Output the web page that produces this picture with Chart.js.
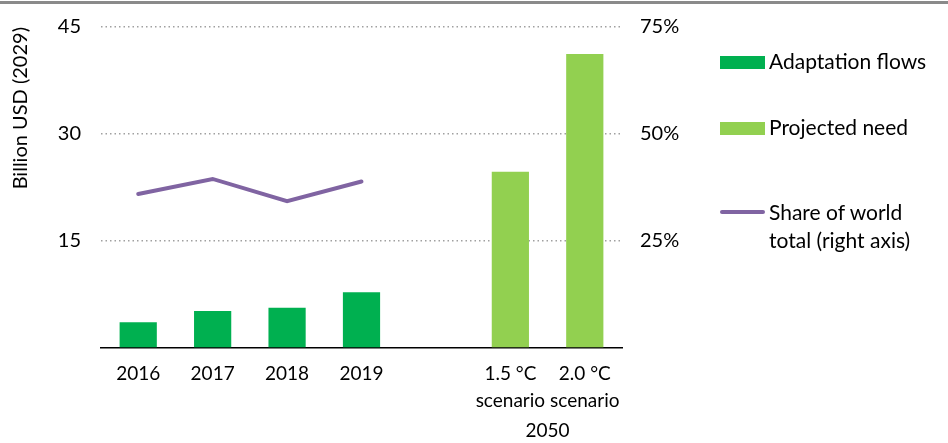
<!DOCTYPE html>
<html>
<head>
<meta charset="utf-8">
<script src="https://cdn.jsdelivr.net/npm/chart.js@4.4.1/dist/chart.umd.min.js"></script>
<style>
  html, body { margin: 0; padding: 0; background: #fff; }
  #wrap { position: relative; width: 948px; height: 443px; overflow: hidden; }
  #topline { position: absolute; left: 0; top: 1px; width: 948px; height: 3px; background: #8a8a8a; }
  #legend { position: absolute; left: 720px; top: 0; font-family: Lato, sans-serif; font-size: 21px; color: #000; }
  .item { position: absolute; left: 0; display: flex; align-items: flex-start; white-space: nowrap; line-height: 28px; }
  .swatch { width: 45px; margin-right: 4px; flex: none; }
</style>
</head>
<body>
<div id="wrap">
  <canvas id="chart" width="948" height="443"></canvas>
  <div id="topline"></div>
  <div id="legend"></div>
</div>
<script>
// values
const categories = ["2016", "2017", "2018", "2019", "", ["1.5 °C", "scenario"], ["2.0 °C", "scenario"]];
const adaptationFlows = [3.6, 5.2, 5.65, 7.8, null, null, null];
const projectedNeed = [null, null, null, null, null, 24.7, 41.2];
const worldShare = [36.0, 39.5, 34.3, 38.9, null, null, null];
const leftTicks = [0, 15, 30, 45];
const rightTicks = [0, 25, 50, 75];
const groupLabel = "2050";

const font = { family: "Lato, sans-serif", size: 20, lineHeight: 1.35 };
const xFont = { family: "Lato, sans-serif", size: 19, lineHeight: 1.4 };

// "2050" under the two scenario bars
const groupLabelPlugin = {
    id: "groupLabel",
    afterDraw(chart) {
        const x = chart.scales.x;
        const cx = (x.getPixelForValue(5) + x.getPixelForValue(6)) / 2;
        const ctx = chart.ctx;
        ctx.save();
        ctx.font = `${xFont.size}px ${xFont.family}`;
        ctx.fillStyle = "#000";
        ctx.textAlign = "center";
        ctx.textBaseline = "middle";
        ctx.fillText(groupLabel, cx, 431);
        ctx.restore();
    }
};

const chart = new Chart(document.querySelector("#chart"), {
    type: "bar",
    data: {
        labels: categories,
        datasets: [
            {
                label: "Adaptation flows",
                data: adaptationFlows,
                backgroundColor: "#00b050",
                grouped: false,
                barPercentage: 0.5,
                categoryPercentage: 1,
                yAxisID: "y",
                order: 2
            },
            {
                label: "Projected need",
                data: projectedNeed,
                backgroundColor: "#92d050",
                grouped: false,
                barPercentage: 0.5,
                categoryPercentage: 1,
                yAxisID: "y",
                order: 2
            },
            {
                label: ["Share of world", "total (right axis)"],
                type: "line",
                data: worldShare,
                borderColor: "#8064a2",
                borderWidth: 4,
                borderCapStyle: "round",
                pointRadius: 0,
                tension: 0,
                yAxisID: "y2",
                order: 1
            }
        ]
    },
    options: {
        responsive: false,
        animation: false,
        layout: { padding: { top: 27, right: 246, left: 0, bottom: 0 } },
        plugins: {
            legend: { display: false },
            tooltip: { enabled: false }
        },
        scales: {
            x: {
                grid: { display: false, drawTicks: false },
                border: { display: true, color: "#000", width: 1.5 },
                ticks: { font: xFont, color: "#000", padding: 13, maxRotation: 0, autoSkip: false },
                afterFit: (s) => { s.height = 95; }
            },
            y: {
                position: "left",
                min: 0,
                max: 45,
                afterBuildTicks: (s) => { s.ticks = leftTicks.map(v => ({ value: v })); },
                ticks: {
                    font, color: "#000", padding: 20,
                    callback: (v) => v === 0 ? "" : v
                },
                grid: {
                    drawTicks: false,
                    color: (c) => c.tick.value === 0 ? "rgba(0,0,0,0)" : "#a0a0a0",
                    lineWidth: 1.5
                },
                border: { display: false, dash: [1.5, 3] },
                title: {
                    display: true,
                    text: "Billion USD (2029)",
                    font: { family: font.family, size: 20 },
                    color: "#000",
                    align: "end",
                    padding: { top: 9, bottom: 0 }
                },
                afterFit: (s) => { s.width = 101; s.paddingTop = 0; s.paddingBottom = 0; }
            },
            y2: {
                position: "right",
                min: 0,
                max: 75,
                afterBuildTicks: (s) => { s.ticks = rightTicks.map(v => ({ value: v })); },
                ticks: {
                    font, color: "#000", padding: 18,
                    callback: (v) => v === 0 ? "" : v + "%"
                },
                grid: { display: false, drawTicks: false },
                border: { display: false },
                afterFit: (s) => { s.width = 80; s.paddingTop = 0; s.paddingBottom = 0; }
            }
        }
    },
    plugins: [groupLabelPlugin]
});

// legend built from the chart's datasets
const legendTops = [47, 113, 198];
const legend = document.querySelector("#legend");
chart.data.datasets.forEach((ds, i) => {
    const item = document.createElement("div");
    item.className = "item";
    item.style.top = legendTops[i] + "px";
    const sw = document.createElement("div");
    sw.className = "swatch";
    if (ds.type === "line") {
        sw.style.height = "4px";
        sw.style.borderRadius = "2px";
        sw.style.marginTop = "12px";
        sw.style.background = ds.borderColor;
    } else {
        sw.style.height = "13px";
        sw.style.marginTop = "9px";
        sw.style.background = ds.backgroundColor;
    }
    const txt = document.createElement("div");
    txt.innerHTML = [].concat(ds.label).join("<br>");
    item.appendChild(sw);
    item.appendChild(txt);
    legend.appendChild(item);
});
</script>
</body>
</html>
